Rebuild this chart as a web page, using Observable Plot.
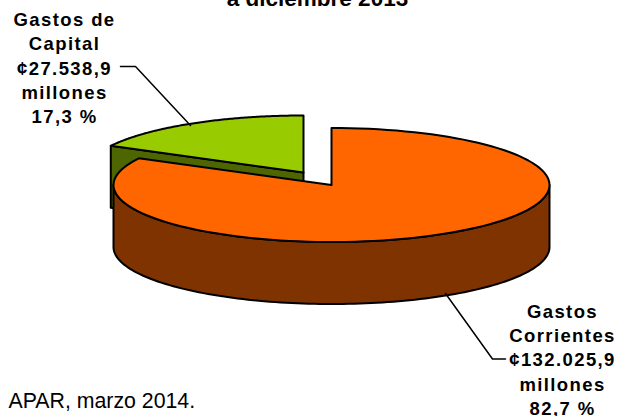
<!DOCTYPE html>
<html>
<head>
<meta charset="utf-8">
<style>
html,body{margin:0;padding:0;background:#fff;overflow:hidden}
.spaced{letter-spacing:1.4px}
</style>
<script src="https://cdn.jsdelivr.net/npm/d3@7"></script>
<script src="https://cdn.jsdelivr.net/npm/@observablehq/plot@0.6"></script>
</head>
<body>
<div id="chart"></div>
<script>
// Data
const categories = ["Gastos de Capital", "Gastos Corrientes"];
const amounts = [27538.9, 132025.9];
const amountLabels = ["¢27.538,9", "¢132.025,9"];
const percentLabels = ["17,3 %", "82,7 %"];
const titleText = "a diciembre 2013";
const sourceText = "APAR, marzo 2014.";

// Layout of the 3D pie
const RX = 218, RY = 57, DEPTH = 62;
const GREEN_C = [303, 172], ORANGE_C = [331, 184.5];
const COLORS = {capTop:"#99CC00", capSide:"#4D6600", curTop:"#FF6600", curSide:"#7F3300"};

const total = d3.sum(amounts);
const capAngle = amounts[0] / total * 2 * Math.PI;
const pt = ([cx, cy], a, dy = 0) => ({x: cx + RX * Math.sin(a), y: cy - RY * Math.cos(a) + dy});
const arc = (c, a0, a1, dy = 0) => d3.range(0, 121).map(i => pt(c, a0 + (a1 - a0) * i / 120, dy));
const apex = ([x, y], dy = 0) => ({x, y: y + dy});

// Gastos de Capital wedge: from 12 o'clock counter-clockwise
const capTop = [apex(GREEN_C), ...arc(GREEN_C, -capAngle, 0), apex(GREEN_C)];
const capEnd = pt(GREEN_C, -capAngle);
const capSide = [apex(GREEN_C), capEnd, {x: capEnd.x, y: capEnd.y + DEPTH}, apex(GREEN_C, DEPTH), apex(GREEN_C)];
// Gastos Corrientes wedge: the rest of the circle
const curTop = [apex(ORANGE_C), ...arc(ORANGE_C, 0, 2 * Math.PI - capAngle), apex(ORANGE_C)];
const front = arc(ORANGE_C, Math.PI / 2, 3 * Math.PI / 2);
const curSide = [...front, ...arc(ORANGE_C, 3 * Math.PI / 2, Math.PI / 2, DEPTH), front[0]];

const leaders = [
  [{x:120,y:66},{x:135,y:66},{x:190,y:125}],
  [{x:445,y:293},{x:492,y:358.5},{x:505,y:358.5}]
];
const labels = categories.map((c, i) => {
  const w = c.split(" ");
  const head = i === 0 ? `${w[0]} ${w[1]}\n${w[2]}` : `${w[0]}\n${w[1]}`;
  return {text: `${head}\n${amountLabels[i]}\nmillones\n${percentLabels[i]}`, x: [64, 562][i], y: [66.5, 358][i]};
});

const poly = (d, fill, sw = 2) => Plot.line(d, {x:"x", y:"y", fill, stroke:"#000", strokeWidth:sw, curve:"linear", strokeLinejoin:"round"});

const chart = Plot.plot({
  width: 617, height: 416, margin: 0,
  x: {domain:[0,617], range:[0,617], axis:null},
  y: {domain:[0,416], range:[0,416], axis:null},
  style: {background:"#fff"},
  marks: [
    poly(capSide, COLORS.capSide),
    poly(capTop, COLORS.capTop),
    poly(curSide, COLORS.curSide),
    poly(curTop, COLORS.curTop),
    ...leaders.map(d => Plot.line(d, {x:"x", y:"y", stroke:"#000", strokeWidth:1.5, curve:"linear"})),
    Plot.text(labels, {x:"x", y:"y", text:"text", textAnchor:"middle", lineAnchor:"middle", lineHeight:1.315, fontSize:18.5, fontWeight:"bold", fontFamily:"Liberation Sans", fill:"#000", className:"spaced"}),
    Plot.text([titleText], {x:()=>317, y:()=>5, text:d=>d, textAnchor:"middle", lineAnchor:"bottom", fontSize:22.5, fontWeight:"bold", fontFamily:"Liberation Sans", fill:"#000"}),
    Plot.text([sourceText], {x:()=>8, y:()=>407, text:d=>d, textAnchor:"start", lineAnchor:"bottom", fontSize:21.3, fontFamily:"Liberation Sans", fill:"#000"})
  ]
});
document.getElementById("chart").appendChild(chart);
</script>
</body>
</html>
